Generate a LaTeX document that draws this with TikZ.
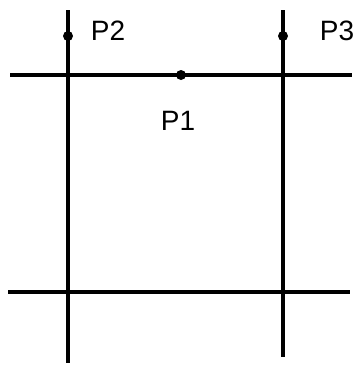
\documentclass[tikz,border=0pt]{standalone}
\usepackage{fontspec}
\setmainfont{Liberation Sans}
\usetikzlibrary{positioning}

\begin{document}
\begin{tikzpicture}[
  x=1pt, y=-1pt,
  dot/.style={circle, fill, inner sep=0pt, minimum size=10pt},
  lbl/.style={inner sep=0pt, font=\fontsize{28}{28}\selectfont},
  line/.style={line width=4pt}
]
  \useasboundingbox (0,0) rectangle (359,365);
  % ends of the four lines
  \coordinate (Ltop) at (68,10);
  \coordinate (Lbot) at (68,363);
  \coordinate (Rtop) at (283,10);
  \coordinate (Rbot) at (283,357);
  \coordinate (Tl) at (10,75);
  \coordinate (Tr) at (352,75);
  \coordinate (Bl) at (8,292);
  \coordinate (Br) at (350,292);

  \draw[line] (Ltop) -- (Lbot);
  \draw[line] (Rtop) -- (Rbot);
  \draw[line] (Tl) -- (Tr);
  \draw[line] (Bl) -- (Br);

  \node[dot] (P1) at (181,75) {};
  \node[dot] (P2) at (68,36) {};
  \node[dot] (P3) at (283,36) {};

  \node[lbl] (P1lbl) at (178,121) {P1};
  \node[lbl] (P2lbl) at (108,31) {P2};
  \node[lbl] (P3lbl) at (337,31) {P3};
\end{tikzpicture}
\end{document}
